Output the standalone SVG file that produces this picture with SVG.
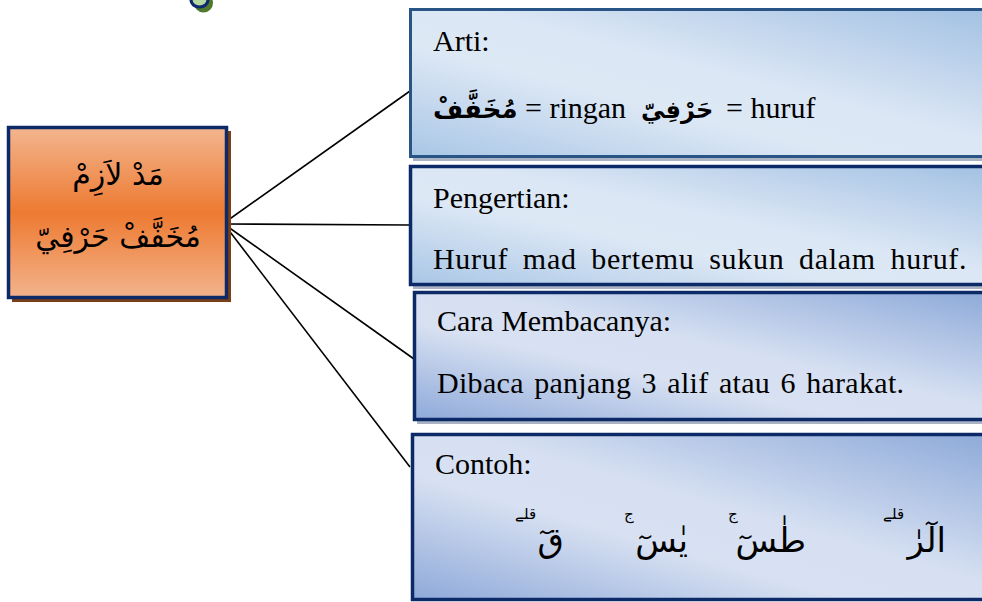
<svg xmlns="http://www.w3.org/2000/svg" width="982" height="602" viewBox="0 0 982 602">
<defs>
  <linearGradient id="gOrange" x1="0" y1="0" x2="0" y2="1">
    <stop offset="0" stop-color="#f3b58f"/>
    <stop offset="0.5" stop-color="#ed7a31"/>
    <stop offset="1" stop-color="#f3b38c"/>
  </linearGradient>
  <linearGradient id="gBlue1" x1="1" y1="0" x2="0" y2="1">
    <stop offset="0" stop-color="#a3c1e3"/>
    <stop offset="0.45" stop-color="#dce7f5"/>
    <stop offset="0.62" stop-color="#dde8f5"/>
    <stop offset="1" stop-color="#a9c6e6"/>
  </linearGradient>
  <linearGradient id="gBlue2" x1="1" y1="0" x2="0" y2="1">
    <stop offset="0" stop-color="#8eaad9"/>
    <stop offset="0.45" stop-color="#d6e0f2"/>
    <stop offset="0.62" stop-color="#d8e1f2"/>
    <stop offset="1" stop-color="#8ea9d9"/>
  </linearGradient>
  <style>
    .lat { font-family: "Liberation Serif", "Times New Roman", serif; font-size: 30px; fill: #000; }
    .ar { font-family: "DejaVu Sans", "Noto Sans", sans-serif; fill: #000; }
    .mark { font-family: "DejaVu Sans", "Noto Sans", sans-serif; font-size: 15px; fill: #000; }
    .conn { stroke: #000; stroke-width: 1.6; fill: none; }
    .shadowG { fill: #a9b3c4; }
  </style>
</defs>

<!-- partial decoration at top -->
<g id="topmark">
  <ellipse cx="203.5" cy="3" rx="9.5" ry="9.5" fill="#4f7a2e"/>
  <ellipse cx="199.5" cy="0" rx="8.5" ry="7" fill="#b6d9a1" stroke="#0d2a6e" stroke-width="3.2"/>
</g>

<g id="connectors">
  <line class="conn" x1="224" y1="223" x2="410" y2="91"/>
  <line class="conn" x1="224" y1="224" x2="410" y2="225"/>
  <line class="conn" x1="224" y1="224" x2="414" y2="359"/>
  <line class="conn" x1="224" y1="224" x2="410" y2="467"/>
</g>

<g id="main">
  <rect x="12" y="131" width="219" height="171" fill="#7b3f16"/>
  <rect x="8.5" y="127.5" width="218" height="170" fill="url(#gOrange)" stroke="#0c2968" stroke-width="3.5"/>
  <text class="ar" x="118" y="185" text-anchor="middle" font-size="30">مَدْ لاَزِمْ</text>
  <text class="ar" x="118" y="247" text-anchor="middle" font-size="30">مُخَفَّفْ حَرْفِيّ</text>
</g>

<g id="arti">
  <rect x="413" y="158" width="572" height="3" class="shadowG"/>
  <rect x="410.5" y="9.5" width="575" height="147" fill="url(#gBlue1)" stroke="#285585" stroke-width="3"/>
  <text class="lat" x="433" y="51">Arti:</text>
  <text class="ar" x="433" y="118" font-size="26" font-weight="bold">مُخَفَّفْ</text>
  <text class="lat" x="525" y="118">= ringan</text>
  <text class="ar" x="641" y="118" font-size="24" font-weight="bold">حَرْفِيّ</text>
  <text class="lat" x="726" y="118">= huruf</text>
</g>

<g id="pengertian">
  <rect x="413" y="286" width="572" height="3" class="shadowG"/>
  <rect x="410.5" y="166.5" width="575" height="118" fill="url(#gBlue1)" stroke="#0c2968" stroke-width="3.5"/>
  <text class="lat" x="433" y="208">Pengertian:</text>
  <text class="lat" x="433" y="269" letter-spacing="0.7" word-spacing="6.5">Huruf mad bertemu sukun dalam huruf.</text>
</g>

<g id="cara">
  <rect x="417" y="421" width="568" height="3" class="shadowG"/>
  <rect x="414.5" y="292.5" width="571" height="127" fill="url(#gBlue2)" stroke="#0c2968" stroke-width="3.5"/>
  <text class="lat" x="437" y="331">Cara Membacanya:</text>
  <text class="lat" x="437" y="393" letter-spacing="0.3" word-spacing="2.6">Dibaca panjang 3 alif atau 6 harakat.</text>
</g>

<g id="contoh">
  <rect x="412.5" y="434.5" width="573" height="165" fill="url(#gBlue2)" stroke="#0c2968" stroke-width="3.5"/>
  <text class="lat" x="435" y="474">Contoh:</text>
  <text class="ar" x="946" y="552" text-anchor="end" font-size="34">الٓرٰ</text>
  <text class="mark" x="883" y="519">قلے</text>
  <text class="ar" x="806" y="552" text-anchor="end" font-size="34">طٰسٓ</text>
  <text class="mark" x="728" y="519">ج</text>
  <text class="ar" x="688" y="552" text-anchor="end" font-size="34">يٰسٓ</text>
  <text class="mark" x="624" y="519">ج</text>
  <text class="ar" x="564" y="552" text-anchor="end" font-size="34">قٓ</text>
  <text class="mark" x="515" y="519">قلے</text>
</g>
</svg>
